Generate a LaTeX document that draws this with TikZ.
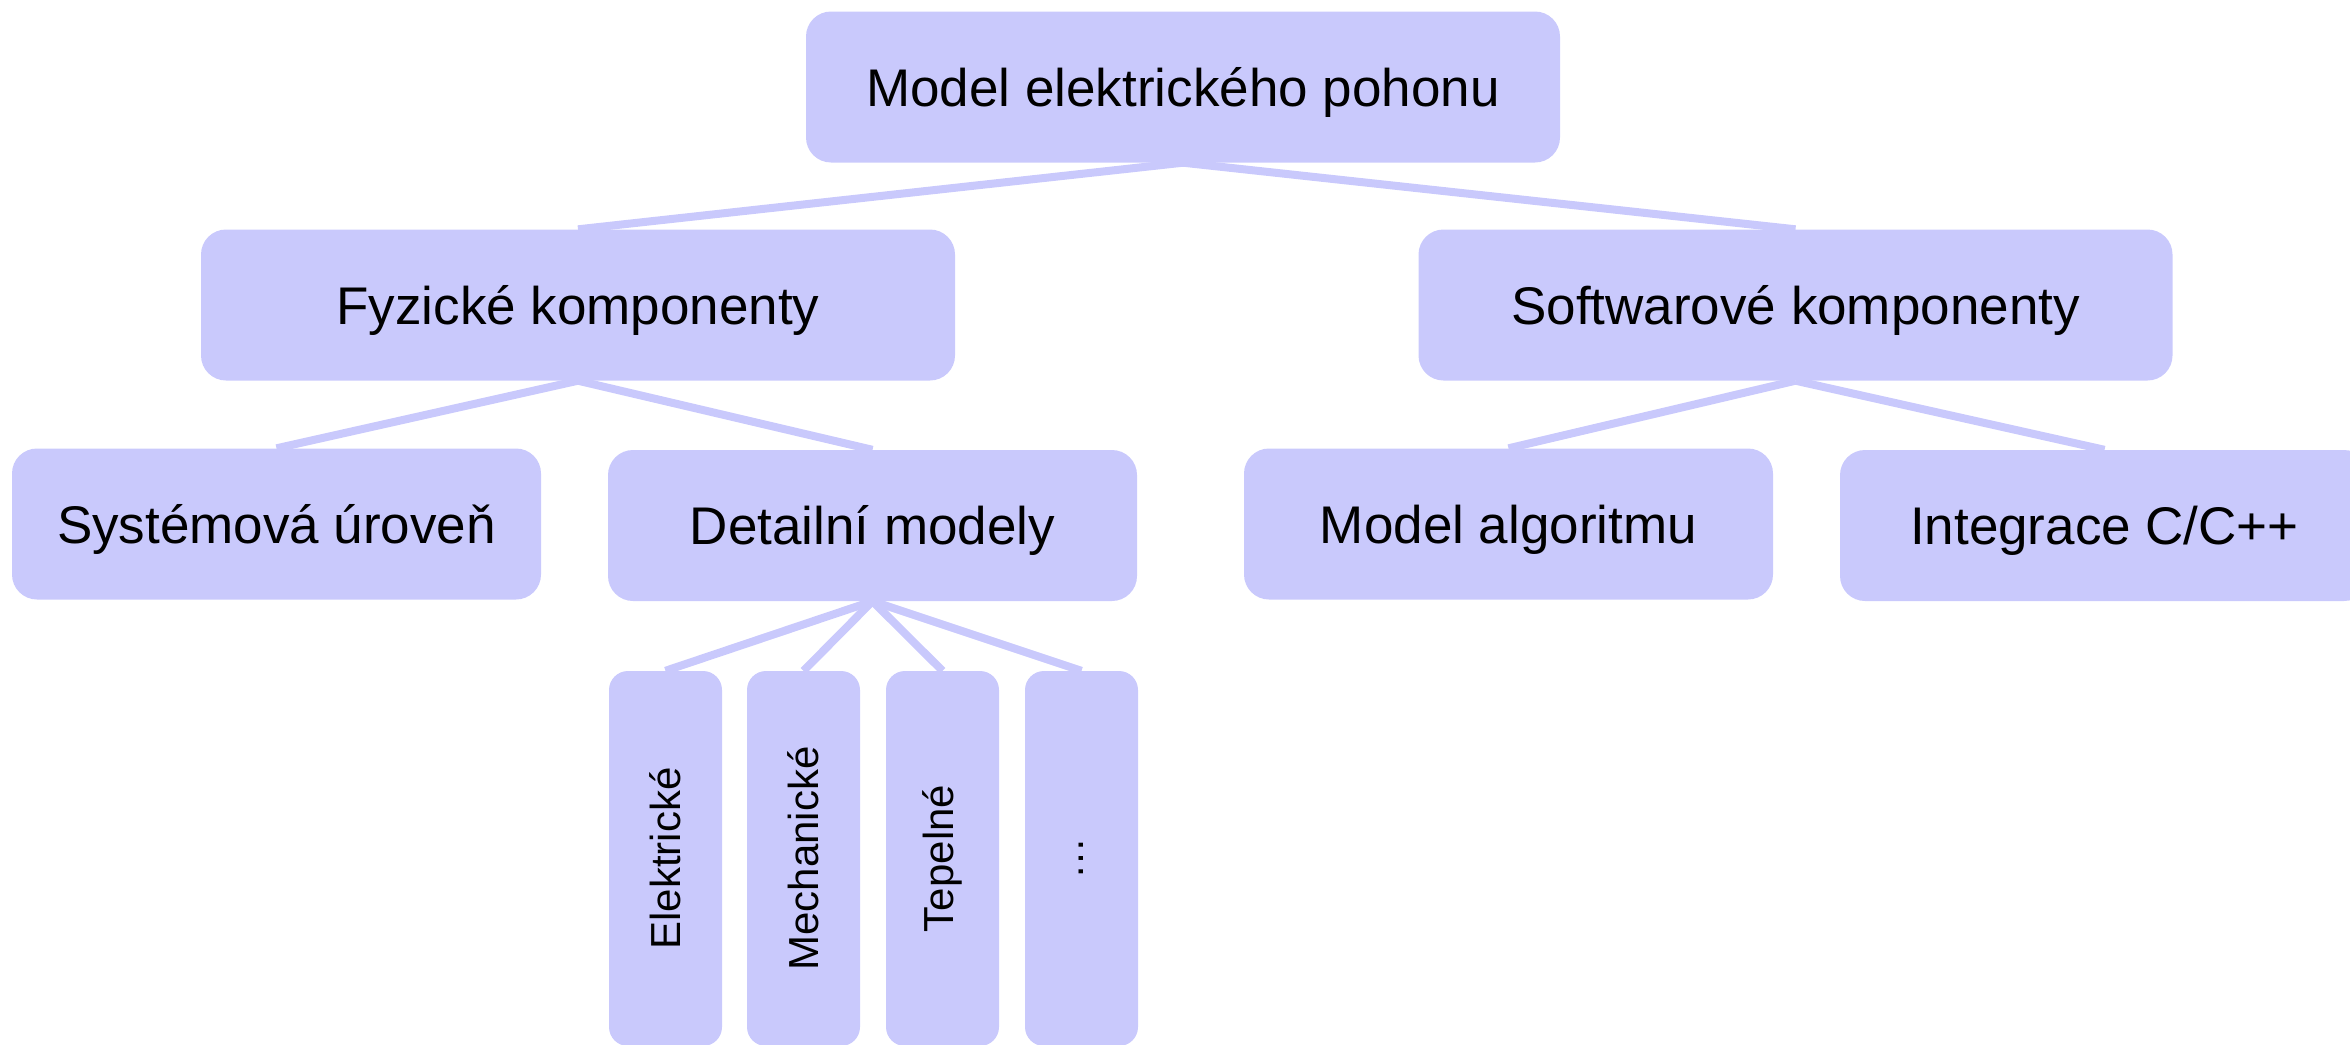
\documentclass[tikz,border=0pt]{standalone}
\usepackage{fontspec}
\usepackage{graphicx}
\setmainfont{Liberation Sans}
\usetikzlibrary{backgrounds}
\definecolor{boxfill}{RGB}{201,201,252}
\tikzset{
  box/.style={rectangle, rounded corners=25pt, fill=boxfill, inner sep=0pt, text=black},
  hbox/.style={box, font=\fontsize{53}{60}\selectfont, text height=49pt, text depth=10.6pt},
  wide/.style={hbox, minimum width=754pt, minimum height=151pt},
  mid/.style={hbox, minimum width=529pt, minimum height=151pt},
  vbox/.style={box, rounded corners=19pt, minimum width=113pt, minimum height=375pt,
    font=\fontsize{42}{50}\selectfont},
  link/.style={draw=boxfill, line width=8pt}
}
\begin{document}
\begin{tikzpicture}[x=1pt,y=-1pt]
\useasboundingbox (0,0) rectangle (2350,1044);
\node[wide] (root) at (1183,87) {Model elektrického pohonu};
\node[wide] (fyz) at (578,305) {Fyzické komponenty};
\node[wide] (sw) at (1795.5,305) {Softwarové komponenty};
\node[mid] (sys) at (276.5,524) {Systémová úroveň};
\node[mid] (det) at (872.5,525.5) {Detailní modely};
\node[mid] (alg) at (1508.5,524) {Model algoritmu};
\node[mid] (int) at (2104.5,525.5) {Integrace C/C++};
\node[vbox] (ele) at (665.5,858.5) {\rotatebox{90}{Elektrické}};
\node[vbox] (mech) at (803.5,858.5) {\rotatebox{90}{Mechanické}};
\node[vbox] (tep) at (942.5,858.5) {\rotatebox{90}{Tepelné}};
\node[vbox] (dots) at (1081.5,858.5) {\rotatebox{90}{…}};
\begin{pgfonlayer}{background}
\draw[link] (root.south) -- (fyz.north);
\draw[link] (root.south) -- (sw.north);
\draw[link] (fyz.south) -- (sys.north);
\draw[link] (fyz.south) -- (det.north);
\draw[link] (sw.south) -- (alg.north);
\draw[link] (sw.south) -- (int.north);
\draw[link] (det.south) -- (ele.north);
\draw[link] (det.south) -- (mech.north);
\draw[link] (det.south) -- (tep.north);
\draw[link] (det.south) -- (dots.north);
\end{pgfonlayer}
\end{tikzpicture}
\end{document}
